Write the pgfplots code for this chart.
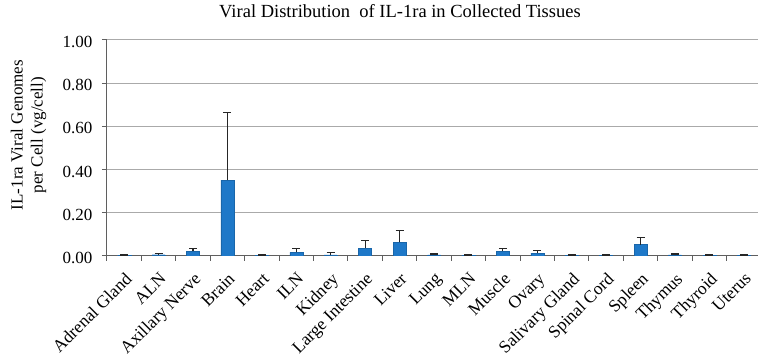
\documentclass[border=0pt]{standalone}
\usepackage{pgfplots}
\pgfplotsset{compat=1.18}
\usepackage{pgfplotstable}
\usepackage{fontspec}
\setmainfont{Liberation Serif}
\definecolor{barblue}{RGB}{30,120,200}
\definecolor{gridgray}{RGB}{170,170,170}
\definecolor{axisgray}{RGB}{95,95,95}

% vg/cell per tissue: mean and upper error
\pgfplotstableread{
idx val err
0 0.004 0.001
1 0.006 0.005
2 0.022 0.014
3 0.351 0.315
4 0.004 0.001
5 0.017 0.019
6 0.005 0.011
7 0.037 0.036
8 0.063 0.056
9 0.005 0.004
10 0.004 0.001
11 0.022 0.014
12 0.013 0.013
13 0.004 0.001
14 0.004 0.001
15 0.053 0.034
16 0.005 0.004
17 0.004 0.001
18 0.004 0.001
}\viraldata

\begin{document}
\begin{tikzpicture}[x=1pt,y=1pt]
\path[use as bounding box] (-107,-102) rectangle (651,256);
\begin{axis}[
  at={(0,0)}, anchor=south west,
  scale only axis, width=654pt, height=216pt,
  ybar, bar width=13pt,
  xmin=-0.5, xmax=18.5, ymin=0, ymax=1,
  axis lines*=left,
  axis line style={axisgray, line width=1pt},
  ytick={0,0.2,0.4,0.6,0.8,1.0},
  ymajorgrids, grid style={gridgray, line width=1pt},
  yticklabel style={font=\fontsize{17}{17}\selectfont, xshift=-6pt, yshift=-2pt},
  /pgf/number format/.cd, fixed, fixed zerofill, precision=2, assume math mode=true,
  /pgfplots/.cd,
  xtick={0,...,18},
  xticklabels={Adrenal Gland, ALN, Axillary Nerve, Brain, Heart, ILN, Kidney,
    Large Intestine, Liver, Lung, MLN, Muscle, Ovary, Salivary Gland,
    Spinal Cord, Spleen, Thymus, Thyroid, Uterus},
  major x tick style={draw=none},
  minor xtick={-0.5,0.5,...,18.5},
  tick align=outside,
  tick style={axisgray, line width=1pt},
  major tick length=5pt, minor tick length=5pt,
  x tick label style={yshift=-9pt, rotate=45, anchor=north east, inner sep=1pt,
    font=\fontsize{17.5}{17.5}\selectfont},
  ylabel={IL-1ra Viral Genomes\\per Cell (vg/cell)},
  ylabel style={at={(axis description cs:-0.12,0.56)}, anchor=center,
    align=center, font=\fontsize{17}{20}\selectfont},
  title={Viral Distribution \ of IL-1ra in Collected Tissues},
  title style={at={(axis description cs:0.448,1.106)}, anchor=center,
    font=\fontsize{18.5}{18.5}\selectfont},
]
\addplot[fill=barblue, draw=barblue!85!black,
  error bars/.cd, y dir=plus, y explicit,
  error bar style={black!85, line width=1.2pt},
  error mark options={rotate=90, mark size=4pt, line width=1.2pt, black!85}]
  table[x=idx, y=val, y error=err] \viraldata;
\end{axis}
\end{tikzpicture}
\end{document}
